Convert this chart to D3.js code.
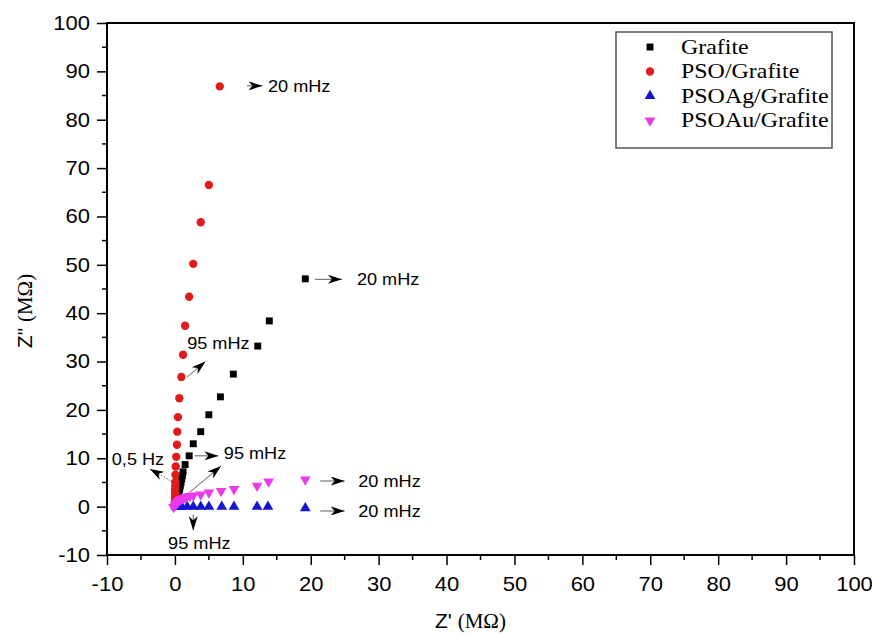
<!DOCTYPE html>
<html><head><meta charset="utf-8">
<script src="https://cdn.jsdelivr.net/npm/d3@7"></script>
<style>
html,body{margin:0;padding:0;background:#fff;}
svg{display:block;}
</style></head>
<body>
<svg id="chart" width="872" height="635"></svg>
<script>
// ---- data (Z' and Z'' in MΩ) ----
const grafiteX = [0.1, 0.2, 0.35, 0.5, 0.6, 0.7, 0.8, 0.9, 1.0, 1.1, 1.2, 1.5, 2.1, 2.7, 3.8, 5.0, 6.7, 8.6, 12.2, 13.9, 19.2];
const grafiteY = [0.4, 0.9, 1.5, 2.2, 2.9, 3.6, 4.3, 5.0, 5.7, 6.4, 7.2, 8.7, 10.5, 13.0, 15.5, 19.0, 22.7, 27.4, 33.2, 38.4, 47.1];

const psoX = [0.0, 0.0, 0.02, 0.02, 0.03, 0.03, 0.04, 0.05, 0.05, 0.08, 0.12, 0.2, 0.3, 0.35, 0.45, 0.65, 0.95, 1.2, 1.5, 2.1, 2.7, 3.8, 5.0, 6.6];
const psoY = [0.4, 0.8, 1.2, 1.7, 2.3, 2.9, 3.6, 4.3, 5.1, 6.6, 8.3, 10.3, 12.8, 15.5, 18.5, 22.4, 26.8, 31.4, 37.4, 43.4, 50.2, 58.8, 66.5, 86.9];

const psoAgX = [0.1, 0.3, 0.6, 1.0, 1.8, 2.7, 3.8, 5.0, 6.9, 8.7, 12.1, 13.7, 19.2];
const psoAgY = [0.0, 0.0, 0.0, 0.0, 0.0, 0.0, 0.0, 0.0, 0.0, 0.0, 0.0, 0.0, -0.3];

const psoAuX = [-0.2, 0.05, 0.2, 0.35, 0.5, 0.7, 0.9, 1.2, 1.5, 1.8, 2.2, 2.7, 3.8, 5.0, 6.8, 8.7, 12.1, 13.8, 19.2];
const psoAuY = [-0.1, 0.3, 0.6, 0.9, 1.1, 1.35, 1.5, 1.7, 1.9, 2.1, 2.2, 2.3, 2.5, 2.9, 3.2, 3.6, 4.3, 5.2, 5.6];

const seriesNames = ["Grafite", "PSO/Grafite", "PSOAg/Grafite", "PSOAu/Grafite"];
const seriesColors = ["#000000", "#e01b1b", "#1414d2", "#ea3aea"];
const seriesSymbols = ["square", "circle", "triangle", "triangleDown"];

const xTicks = [-10, 0, 10, 20, 30, 40, 50, 60, 70, 80, 90, 100];
const yTicks = [-10, 0, 10, 20, 30, 40, 50, 60, 70, 80, 90, 100];

// annotations in data coordinates: label text, text anchor, arrow from -> to
const annotations = [
  {text: "20 mHz", tx: 13.7, ty: 87.0, ax1: 10.6, ay1: 87.0, ax2: 12.9, ay2: 87.0, dotted: false},
  {text: "20 mHz", tx: 26.8, ty: 47.0, ax1: 20.6, ay1: 47.0, ax2: 24.6, ay2: 47.0, dotted: false},
  {text: "20 mHz", tx: 27.0, ty: 5.3, ax1: 21.4, ay1: 5.3, ax2: 25.0, ay2: 5.3, dotted: false},
  {text: "20 mHz", tx: 27.0, ty: -0.9, ax1: 21.4, ay1: -0.9, ax2: 25.0, ay2: -0.9, dotted: false},
  {text: "95 mHz", tx: 1.8, ty: 33.8, ax1: 1.8, ay1: 26.8, ax2: 4.5, ay2: 30.0, dotted: false},
  {text: "95 mHz", tx: 7.2, ty: 11.1, ax1: 2.9, ay1: 10.5, ax2: 6.4, ay2: 10.5, dotted: false},
  {text: "", tx: 0, ty: 0, ax1: 2.2, ay1: 3.0, ax2: 6.8, ay2: 8.4, dotted: false},
  {text: "0,5 Hz", tx: -9.3, ty: 9.8, ax1: -0.3, ay1: 5.1, ax2: -3.7, ay2: 7.8, dotted: true},
  {text: "95 mHz", tx: -1.0, ty: -7.5, ax1: 2.7, ay1: -1.6, ax2: 2.7, ay2: -4.9, dotted: false}
];

// ---- layout ----
const svg = d3.select("#chart");
const L = 107, R = 854, T = 23, B = 555;
const x = d3.scaleLinear().domain([-10, 100]).range([L, R]);
const y = d3.scaleLinear().domain([-10, 100]).range([B, T]);
const SANS = "Liberation Sans, Arial, sans-serif";
const SERIF = "Liberation Serif, Times New Roman, serif";

svg.append("defs").append("marker")
  .attr("id", "ah").attr("viewBox", "0 0 14 9")
  .attr("refX", 14).attr("refY", 4.5)
  .attr("markerWidth", 14).attr("markerHeight", 9)
  .attr("markerUnits", "userSpaceOnUse")
  .attr("orient", "auto")
  .append("path").attr("d", "M0,0 L14,4.5 L0,9 L4,4.5 Z").attr("fill", "#000");

// stretch a text element horizontally around its anchor
function stretch(sel, sx) {
  sel.each(function () {
    const t = d3.select(this);
    const xx = +t.attr("x") || 0, yy = +t.attr("y") || 0;
    t.attr("x", 0).attr("y", 0).attr("transform", `translate(${xx},${yy}) scale(${sx},1)`);
  });
}

// axes
const minorX = d3.range(-5, 100, 10);
const minorY = d3.range(-5, 100, 10);

const xAxis = svg.append("g").attr("transform", `translate(0,${B})`)
  .call(d3.axisBottom(x).tickValues(xTicks).tickSize(10).tickPadding(12).tickFormat(d => String(d)));
xAxis.append("g").selectAll("line").data(minorX).join("line")
  .attr("x1", d => x(d)).attr("x2", d => x(d)).attr("y1", 0).attr("y2", 5)
  .attr("stroke", "#000").attr("stroke-width", 1.5);

const yAxis = svg.append("g").attr("transform", `translate(${L},0)`)
  .call(d3.axisLeft(y).tickValues(yTicks).tickSize(10).tickPadding(7).tickFormat(d => String(d)));
yAxis.append("g").selectAll("line").data(minorY).join("line")
  .attr("y1", d => y(d)).attr("y2", d => y(d)).attr("x1", 0).attr("x2", -5)
  .attr("stroke", "#000").attr("stroke-width", 1.5);

[xAxis, yAxis].forEach(g => {
  g.select(".domain").remove();
  g.selectAll(".tick line").attr("stroke-width", 1.5);
  g.selectAll(".tick text").attr("font-family", SANS).attr("font-size", 20).attr("fill", "#000");
  stretch(g.selectAll(".tick text"), 1.1);
});

// frame
svg.append("rect").attr("x", L).attr("y", T).attr("width", R - L).attr("height", B - T)
  .attr("fill", "none").attr("stroke", "#000").attr("stroke-width", 2);

// axis titles
const xt = svg.append("text").attr("x", (L + R) / 2 - 10).attr("y", 628).attr("text-anchor", "middle")
  .attr("font-size", 21).attr("fill", "#000");
xt.append("tspan").attr("font-family", SANS).text("Z' ");
xt.append("tspan").attr("font-family", SERIF).text("(MΩ)");

const yt = svg.append("text").attr("transform", `translate(32,${(T + B) / 2 + 22}) rotate(-90)`).attr("text-anchor", "middle")
  .attr("font-size", 21).attr("fill", "#000");
yt.append("tspan").attr("font-family", SANS).text("Z\" ");
yt.append("tspan").attr("font-family", SERIF).text("(MΩ)");

// symbols
const symType = {square: d3.symbolSquare, circle: d3.symbolCircle, triangle: d3.symbolTriangle, triangleDown: d3.symbolTriangle};
const symSize = {square: 48, circle: 55, triangle: 50, triangleDown: 50};
function symPath(s) { return d3.symbol().type(symType[s]).size(symSize[s])(); }
function symTransform(s, px, py) {
  return s === "triangleDown" ? `translate(${px},${py}) rotate(180)` : `translate(${px},${py})`;
}

const seriesData = [
  [grafiteX, grafiteY], [psoX, psoY], [psoAgX, psoAgY], [psoAuX, psoAuY]
];
const plot = svg.append("g");
seriesData.forEach(([xs, ys], i) => {
  const pts = xs.map((v, j) => [v, ys[j]]);
  plot.append("g").selectAll("path").data(pts).join("path")
    .attr("d", symPath(seriesSymbols[i]))
    .attr("transform", d => symTransform(seriesSymbols[i], x(d[0]), y(d[1])))
    .attr("fill", seriesColors[i]);
});

// annotations
const ann = svg.append("g");
annotations.forEach(a => {
  ann.append("line")
    .attr("x1", x(a.ax1)).attr("y1", y(a.ay1)).attr("x2", x(a.ax2)).attr("y2", y(a.ay2))
    .attr("stroke", "#333").attr("stroke-width", 0.8)
    .attr("stroke-dasharray", a.dotted ? "1.5,1.5" : null)
    .attr("marker-end", "url(#ah)");
  if (a.text) {
    const t = ann.append("text").attr("x", x(a.tx)).attr("y", y(a.ty)).attr("dy", "0.35em")
      .attr("font-family", SANS).attr("font-size", 16.5).attr("fill", "#000")
      .text(a.text);
    stretch(t, 1.1);
  }
});

// legend
const lg = svg.append("g");
lg.append("rect").attr("x", 616).attr("y", 32).attr("width", 216).attr("height", 116)
  .attr("fill", "#fff").attr("stroke", "#555").attr("stroke-width", 1.5);
seriesNames.forEach((n, i) => {
  const yy = 47 + i * 24.5;
  lg.append("path").attr("d", symPath(seriesSymbols[i])).attr("transform", symTransform(seriesSymbols[i], 650, yy))
    .attr("fill", seriesColors[i]);
  const t = lg.append("text").attr("x", 681).attr("y", yy).attr("dy", "0.33em")
    .attr("font-family", SERIF).attr("font-size", 21).attr("fill", "#000")
    .text(n);
  stretch(t, 1.14);
});
</script>
</body></html>
